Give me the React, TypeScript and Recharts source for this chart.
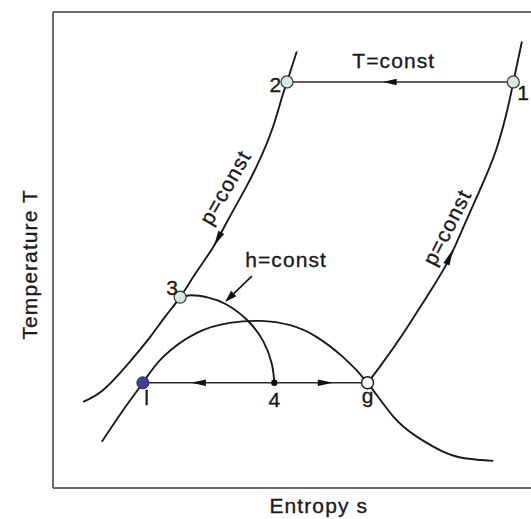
import React from 'react';
import { ComposedChart, Line, XAxis, YAxis, Scatter, ReferenceLine } from 'recharts';

// Schematic T-s diagram (Linde cycle). s and T in arbitrary units 0..100.
const leftIsobar = [
  { s: 6.3, T: 18.1 }, { s: 10.5, T: 20.6 }, { s: 15.7, T: 26.1 }, { s: 20.3, T: 31.7 },
  { s: 23.4, T: 35.9 }, { s: 26.6, T: 40.1 }, { s: 29.9, T: 45.2 }, { s: 33.5, T: 50.6 },
  { s: 36.6, T: 56.3 }, { s: 40.4, T: 63.2 }, { s: 43.5, T: 69.5 }, { s: 46.0, T: 75.8 },
  { s: 47.9, T: 82.1 }, { s: 48.95, T: 85.3 }, { s: 51.0, T: 91.7 },
];
const rightIsobar = [
  { s: 65.8, T: 22.1 }, { s: 68.4, T: 25.5 }, { s: 73.3, T: 32.5 }, { s: 78.2, T: 40.2 },
  { s: 82.4, T: 47.2 }, { s: 85.9, T: 54.9 }, { s: 89.3, T: 62.6 }, { s: 92.7, T: 71.0 },
  { s: 95.2, T: 80.1 }, { s: 96.3, T: 85.3 }, { s: 98.1, T: 93.8 },
];
const saturationDome = [
  { s: 10.2, T: 9.7 }, { s: 14.7, T: 16.4 }, { s: 18.8, T: 22.1 }, { s: 23.0, T: 27.5 },
  { s: 30.1, T: 32.6 }, { s: 37.0, T: 34.7 }, { s: 43.3, T: 35.1 }, { s: 49.6, T: 34.2 },
  { s: 55.2, T: 31.7 }, { s: 60.7, T: 27.5 }, { s: 65.8, T: 22.1 }, { s: 71.2, T: 15.0 },
  { s: 76.1, T: 10.8 }, { s: 81.7, T: 7.6 }, { s: 86.5, T: 6.2 }, { s: 92.1, T: 5.7 },
];
const isenthalp = [
  { s: 26.6, T: 40.1 }, { s: 29.0, T: 40.5 }, { s: 32.5, T: 40.0 }, { s: 36.2, T: 38.6 },
  { s: 40.6, T: 35.3 }, { s: 44.0, T: 30.8 }, { s: 45.8, T: 26.0 }, { s: 46.3, T: 22.1 },
];
const isotherm = [{ s: 48.95, T: 85.3 }, { s: 96.3, T: 85.3 }];
const evaporation = [{ s: 18.8, T: 22.1 }, { s: 65.8, T: 22.1 }];

const statePoints = [
  { id: 'p1', label: '1', s: 96.3, T: 85.3, kind: 'open' },
  { id: 'p2', label: '2', s: 48.95, T: 85.3, kind: 'open' },
  { id: 'p3', label: '3', s: 26.6, T: 40.1, kind: 'open' },
  { id: 'p4', label: '4', s: 46.3, T: 22.1, kind: 'dot' },
  { id: 'pl', label: 'l', s: 18.8, T: 22.1, kind: 'liquid' },
  { id: 'pg', label: 'g', s: 65.8, T: 22.1, kind: 'gas' },
];

// arrowheads: tail -> tip
const arrowHeads = [
  { from: { s: 71.9, T: 85.3 }, to: { s: 69.0, T: 85.3 } },
  { from: { s: 35.2, T: 53.7 }, to: { s: 33.7, T: 50.9 } },
  { from: { s: 82.3, T: 47.0 }, to: { s: 83.7, T: 50.2 } },
  { from: { s: 32.0, T: 22.1 }, to: { s: 28.9, T: 22.1 } },
  { from: { s: 55.4, T: 22.1 }, to: { s: 58.6, T: 22.1 } },
];
const pointerArrows = [{ from: { s: 41.6, T: 44.5 }, to: { s: 36.0, T: 39.1 } }];

const annotations = [
  { id: 'Tconst', text: 'T=const', s: 71.3, T: 88.2 },
  { id: 'hconst', text: 'h=const', s: 40.2, T: 46.4 },
  { id: 'pLeft', text: 'p=const', s: 36.0, T: 63.2 },
  { id: 'pRight', text: 'p=const', s: 82.4, T: 54.8 },
];

const FONT = '"Liberation Sans", Arial, Helvetica, sans-serif';
const INK = '#1a1a1a';
const FRAME = '#6b6b6b';
const FS = 21;
const LS = 1.1;
const TEXT_STROKE = 0.35;

const pointStyle: Record<string, any> = {
  open: { r: 6, fill: '#d3e9e1', stroke: '#3a3a3a', strokeWidth: 1.2 },
  liquid: { r: 6, fill: '#3d4391', stroke: '#262a66', strokeWidth: 1 },
  dot: { r: 3.2, fill: '#111111', stroke: '#111111', strokeWidth: 0 },
  gas: { r: 6, fill: '#ffffff', stroke: '#1c1c1c', strokeWidth: 1.5 },
};
const labelPlacement: Record<string, any> = {
  p1: { dx: 4, dy: 18, anchor: 'start' },
  p2: { dx: -5.7, dy: 9.7, anchor: 'end' },
  p3: { dx: -14, dy: -2, anchor: 'start' },
  p4: { dx: 0, dy: 24, anchor: 'middle' },
  pl: { dx: 1.5, dy: 22, anchor: 'start' },
  pg: { dx: 0, dy: 20, anchor: 'middle' },
};
const annotationStyle: Record<string, any> = {
  Tconst: { anchor: 'middle', rotate: 0 },
  hconst: { anchor: 'start', rotate: 0 },
  pLeft: { anchor: 'middle', rotate: -60 },
  pRight: { anchor: 'middle', rotate: -63 },
};

const ArrowHeadShape = (props: any) => {
  const { x1, y1, x2, y2 } = props;
  const dx = x2 - x1;
  const dy = y2 - y1;
  const len = Math.hypot(dx, dy) || 1;
  const ux = dx / len;
  const uy = dy / len;
  const W = 3.3;
  const pts = `${x2},${y2} ${x1 - uy * W},${y1 + ux * W} ${x1 + uy * W},${y1 - ux * W}`;
  return <polygon points={pts} fill="#111" />;
};

const PointerShape = (props: any) => {
  const { x1, y1, x2, y2 } = props;
  const dx = x2 - x1;
  const dy = y2 - y1;
  const len = Math.hypot(dx, dy) || 1;
  const ux = dx / len;
  const uy = dy / len;
  const L = 12;
  const W = 3.8;
  const bx = x2 - ux * L;
  const by = y2 - uy * L;
  const pts = `${x2},${y2} ${bx - uy * W},${by + ux * W} ${bx + uy * W},${by - ux * W}`;
  return (
    <g>
      <line x1={x1} y1={y1} x2={bx} y2={by} stroke="#111" strokeWidth={1.6} />
      <polygon points={pts} fill="#111" />
    </g>
  );
};

const StateMarker = (props: any) => {
  const { cx, cy, payload } = props;
  const st = pointStyle[payload.kind];
  const lp = labelPlacement[payload.id];
  return (
    <g>
      <circle cx={cx} cy={cy} r={st.r} fill={st.fill} stroke={st.stroke} strokeWidth={st.strokeWidth} />
      <text x={cx + lp.dx} y={cy + lp.dy} textAnchor={lp.anchor} fontFamily={FONT} fontSize={FS} fill={INK} stroke={INK} strokeWidth={TEXT_STROKE}>
        {payload.label}
      </text>
    </g>
  );
};

const AnnotationText = (props: any) => {
  const { cx, cy, payload } = props;
  const st = annotationStyle[payload.id];
  const rotated = st.rotate !== 0;
  return (
    <text
      x={cx}
      y={cy}
      dy={rotated ? '0.36em' : 0}
      textAnchor={st.anchor}
      fontFamily={FONT}
      fontSize={FS}
      letterSpacing={LS}
      fill={INK}
      stroke={INK}
      strokeWidth={TEXT_STROKE}
      transform={rotated ? `rotate(${st.rotate} ${cx} ${cy})` : undefined}
    >
      {payload.text}
    </text>
  );
};

const XTitle = (props: any) => {
  const vb = props.viewBox;
  return (
    <text x={vb.x + vb.width * 0.556} y={vb.y + 24.5} textAnchor="middle" fontFamily={FONT} fontSize={FS} letterSpacing={LS} fill={INK} stroke={INK} strokeWidth={TEXT_STROKE}>
      Entropy s
    </text>
  );
};

const YTitle = (props: any) => {
  const vb = props.viewBox;
  const x = vb.x + 37;
  const y = vb.y + vb.height * 0.53;
  return (
    <text x={x} y={y} textAnchor="middle" fontFamily={FONT} fontSize={FS} letterSpacing={LS} fill={INK} stroke={INK} strokeWidth={TEXT_STROKE} transform={`rotate(-90 ${x} ${y})`}>
      Temperature T
    </text>
  );
};

const curveProps = {
  dataKey: 'T',
  type: 'natural' as const,
  dot: false,
  activeDot: false,
  stroke: INK,
  strokeWidth: 1.9,
  isAnimationActive: false,
};

export default function App() {
  return (
    <div style={{ position: 'absolute', left: 0, top: 0, width: 531, height: 519, background: '#fff' }}>
      <ComposedChart width={531} height={519} margin={{ top: 12, right: 0, bottom: 0, left: 0 }}>
        <XAxis
          type="number"
          dataKey="s"
          domain={[0, 100]}
          height={31}
          tick={false}
          tickLine={false}
          axisLine={{ stroke: FRAME, strokeWidth: 2 }}
          label={{ content: XTitle }}
        />
        <YAxis
          type="number"
          dataKey="T"
          domain={[0, 100]}
          width={53}
          tick={false}
          tickLine={false}
          axisLine={{ stroke: FRAME, strokeWidth: 2 }}
          label={{ content: YTitle }}
        />
        <ReferenceLine y={100} stroke={FRAME} strokeWidth={2} />
        <Line data={saturationDome} {...curveProps} />
        <Line data={leftIsobar} {...curveProps} />
        <Line data={rightIsobar} {...curveProps} />
        <Line data={isenthalp} {...curveProps} />
        <Line data={isotherm} {...curveProps} type="linear" stroke="#2a2a2a" strokeWidth={1.5} />
        <Line data={evaporation} {...curveProps} type="linear" stroke="#2a2a2a" strokeWidth={1.5} />
        {arrowHeads.map((a, i) => (
          <ReferenceLine
            key={`ah${i}`}
            segment={[{ x: a.from.s, y: a.from.T }, { x: a.to.s, y: a.to.T }]}
            shape={ArrowHeadShape}
            ifOverflow="visible"
          />
        ))}
        {pointerArrows.map((a, i) => (
          <ReferenceLine
            key={`pa${i}`}
            segment={[{ x: a.from.s, y: a.from.T }, { x: a.to.s, y: a.to.T }]}
            shape={PointerShape}
            ifOverflow="visible"
          />
        ))}
        <Scatter data={statePoints} dataKey="T" shape={StateMarker} isAnimationActive={false} />
        <Scatter data={annotations} dataKey="T" shape={AnnotationText} isAnimationActive={false} />
      </ComposedChart>
    </div>
  );
}
